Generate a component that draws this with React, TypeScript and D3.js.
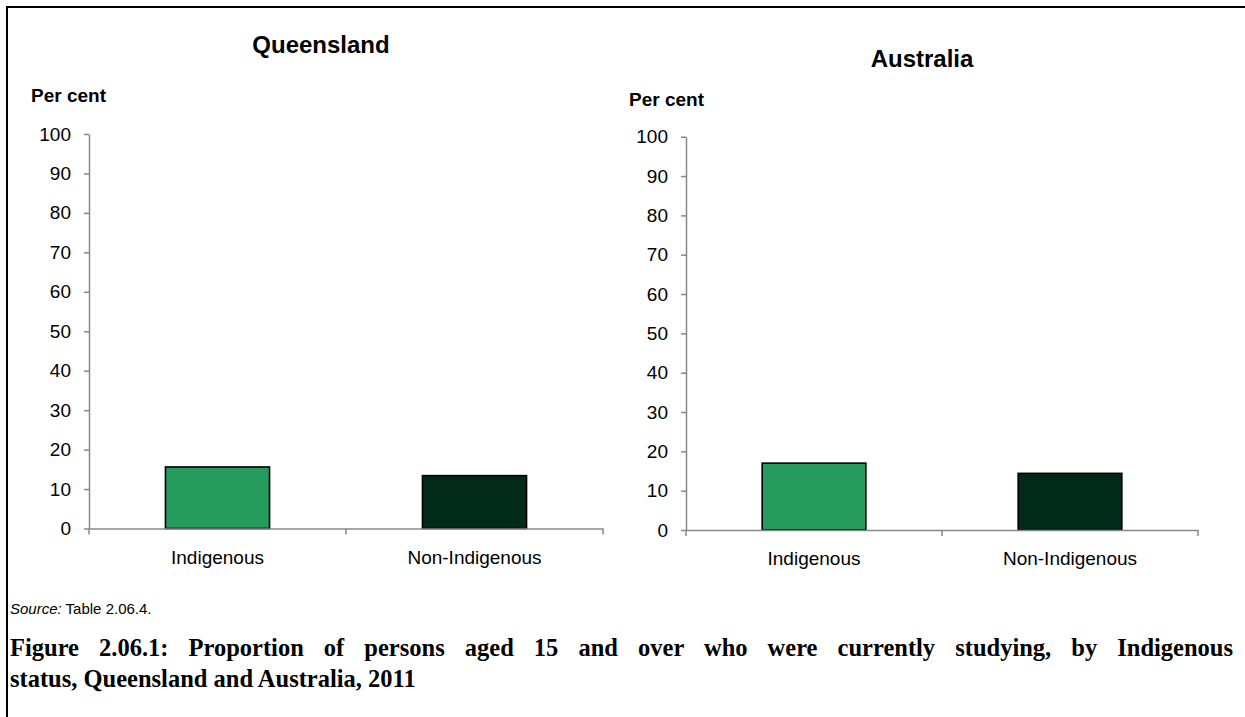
import React, { useEffect, useRef } from "react";
import * as d3 from "d3";

// data
const categories = ["Indigenous", "Non-Indigenous"];
const queenslandValues = [15.6, 13.4];
const australiaValues = [17.0, 14.4];
const yTicks = [0, 10, 20, 30, 40, 50, 60, 70, 80, 90, 100];
const barColors = ["#259b5e", "#022a18"];

const App = () => {
  const ref = useRef<SVGSVGElement>(null);

  useEffect(() => {
    const svg = d3.select(ref.current);
    svg.selectAll("*").remove();

    // outer frame (runs off the right and bottom edges)
    svg
      .append("rect")
      .attr("x", 7)
      .attr("y", 7)
      .attr("width", 1300)
      .attr("height", 800)
      .attr("fill", "none")
      .attr("stroke", "#000")
      .attr("stroke-width", 2);

    const drawPanel = (
      title: string,
      values: number[],
      x0: number,
      x1: number,
      yTop: number,
      yBottom: number,
      titleX: number,
      titleY: number,
      unitX: number,
      unitY: number
    ) => {
      const g = svg.append("g");
      const y = d3.scaleLinear().domain([0, 100]).range([yBottom, yTop]);
      const x = d3.scaleBand<string>().domain(categories).range([x0, x1]).padding(0);
      const barW = x.bandwidth() * 0.405;

      g.append("text")
        .attr("x", titleX)
        .attr("y", titleY)
        .attr("text-anchor", "middle")
        .attr("font-family", "Liberation Sans, Arial, sans-serif")
        .attr("font-weight", "bold")
        .attr("font-size", 24)
        .text(title);

      g.append("text")
        .attr("x", unitX)
        .attr("y", unitY)
        .attr("font-family", "Liberation Sans, Arial, sans-serif")
        .attr("font-weight", "bold")
        .attr("font-size", 19)
        .text("Per cent");

      // bars
      g.selectAll("rect.bar")
        .data(values)
        .enter()
        .append("rect")
        .attr("class", "bar")
        .attr("x", (d, i) => x(categories[i])! + (x.bandwidth() - barW) / 2)
        .attr("y", (d) => y(d))
        .attr("width", barW)
        .attr("height", (d) => y(0) - y(d))
        .attr("fill", (d, i) => barColors[i])
        .attr("stroke", "#000")
        .attr("stroke-width", 1.6);

      // y axis
      const yAxis = g
        .append("g")
        .attr("transform", `translate(${x0},0)`)
        .call(d3.axisLeft(y).tickValues(yTicks).tickSize(5).tickSizeOuter(0).tickPadding(13));
      yAxis.select(".domain").attr("stroke", "#888").attr("stroke-width", 1.5);
      yAxis.selectAll(".tick line").attr("stroke", "#888").attr("stroke-width", 1.5);
      yAxis
        .selectAll(".tick text")
        .attr("font-family", "Liberation Sans, Arial, sans-serif")
        .attr("font-size", 19)
        .attr("fill", "#000");

      // x axis
      const xAxis = g
        .append("g")
        .attr("transform", `translate(0,${y(0)})`)
        .call(d3.axisBottom(x).tickSize(0).tickPadding(22));
      xAxis.select(".domain").attr("stroke", "#888").attr("stroke-width", 1.5);
      xAxis
        .selectAll(".tick text")
        .attr("font-family", "Liberation Sans, Arial, sans-serif")
        .attr("font-size", 19)
        .attr("fill", "#000");
      // tick marks sit at band edges
      xAxis
        .selectAll("line.edge")
        .data([x0, x0 + x.step(), x1])
        .enter()
        .append("line")
        .attr("class", "edge")
        .attr("x1", (d) => d)
        .attr("x2", (d) => d)
        .attr("y1", 0)
        .attr("y2", 6)
        .attr("stroke", "#888")
        .attr("stroke-width", 1.5);
    };

    drawPanel("Queensland", queenslandValues, 89, 603, 134, 528.5, 321, 53, 31, 102);
    drawPanel("Australia", australiaValues, 686, 1198, 136.7, 530, 922, 67, 629, 106);

    // source note
    const src = svg
      .append("text")
      .attr("x", 10)
      .attr("y", 614)
      .attr("font-family", "Liberation Sans, Arial, sans-serif")
      .attr("font-size", 15);
    src.append("tspan").attr("font-style", "italic").text("Source:");
    src.append("tspan").text(" Table 2.06.4.");

    // caption (justified paragraph: first line stretched to full width)
    const caption = [
      "Figure 2.06.1: Proportion of persons aged 15 and over who were currently studying, by Indigenous",
      "status, Queensland and Australia, 2011",
    ];
    const capText = svg
      .selectAll("text.caption")
      .data(caption)
      .enter()
      .append("text")
      .attr("class", "caption")
      .attr("x", 10)
      .attr("y", (d, i) => 656 + i * 31)
      .attr("font-family", "Liberation Serif, Times New Roman, serif")
      .attr("font-weight", "bold")
      .attr("font-size", 24.5)
      .text((d) => d);

    const first = capText.nodes()[0] as SVGTextElement;
    const len = first.getComputedTextLength();
    const spaces = caption[0].split(" ").length - 1;
    const extra = (1223 - len) / spaces;
    if (extra > 0) d3.select(first).attr("word-spacing", extra);
  }, []);

  return (
    <svg
      ref={ref}
      width={1245}
      height={717}
      style={{ position: "absolute", left: 0, top: 0, background: "#fff" }}
    />
  );
};

export default App;
